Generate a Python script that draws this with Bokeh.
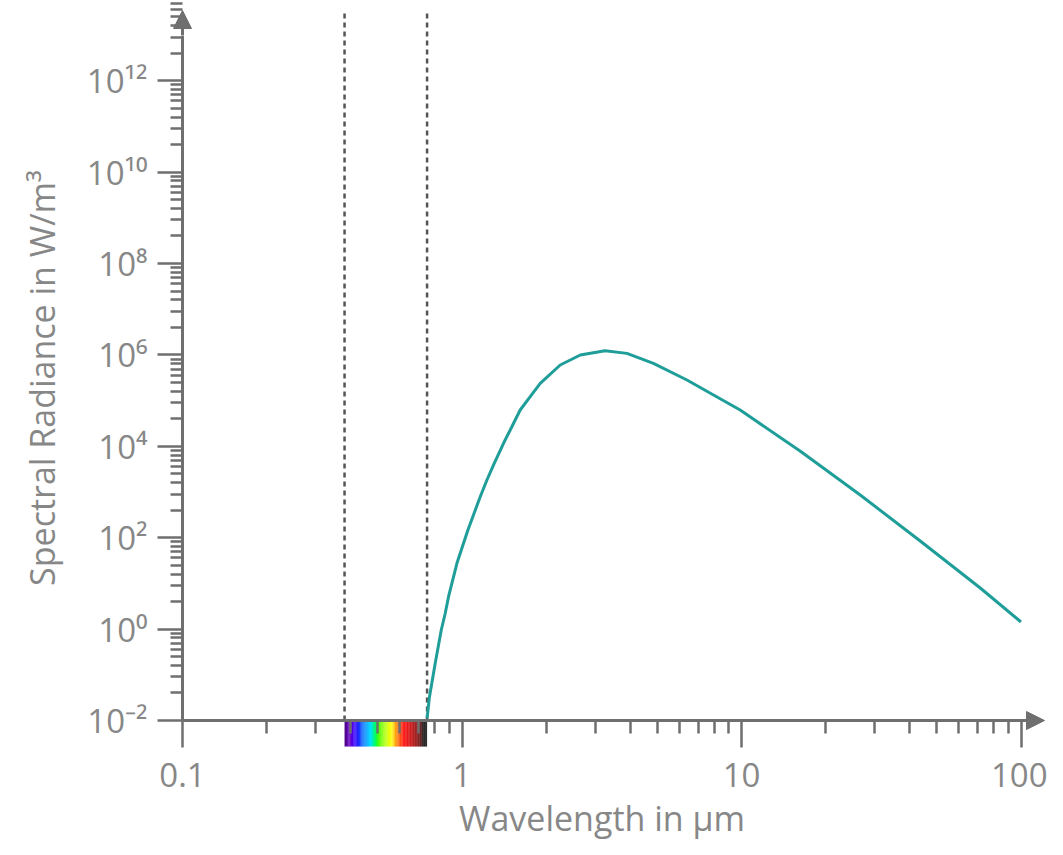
from bokeh.plotting import figure
from bokeh.models import FixedTicker, Arrow, NormalHead, Range1d
from bokeh.embed import file_html
from bokeh.resources import INLINE
import numpy as np

# ---- data ----
wavelength_um = [0.75, 0.765, 0.802, 0.843, 0.871, 0.895, 0.959, 1.05, 1.162, 1.228, 1.304,
                 1.408, 1.488, 1.615, 1.754, 1.905, 2.246, 2.65, 3.25, 3.89, 4.84, 6.38,
                 7.94, 9.89, 16.2, 26.6, 43.6, 71.5, 100.0]
radiance = [0.0112, 0.0332, 0.179, 0.955, 2.22, 5.12, 27.5, 147, 789, 1832, 4250,
            11640, 22750, 62230, 1.216e5, 2.39e5, 6.01e5, 9.95e5, 1.236e6, 1.08e6, 6.55e5, 2.82e5,
            1.33e5, 6.22e4, 7890, 859, 84.7, 7.93, 1.43]

visible_limits_um = [0.38, 0.75]

x_major_ticks = [0.1, 1.0, 10.0, 100.0]
x_tick_labels = ["0.1", "1", "10", "100"]
y_major_exponents = [-2, 0, 2, 4, 6, 8, 10, 12]
y_tick_labels = ["10\u207b\u00b2", "10\u2070", "10\u00b2", "10\u2074", "10\u2076",
                 "10\u2078", "10\u00b9\u2070", "10\u00b9\u00b2"]

spectrum_wl = [0.38, 0.398, 0.415, 0.444, 0.47, 0.49, 0.502, 0.546, 0.56, 0.585, 0.62,
               0.653, 0.708, 0.73, 0.75]
spectrum_colors = ["#4a0080", "#6a00d0", "#3000ff", "#0070ff", "#00e0ff", "#00ff60", "#40ff00",
                   "#e0ff00", "#ffff00", "#ff8000", "#ff0000", "#d00000", "#600000", "#000000",
                   "#000000"]

# ---- styling ----
AX = "#6f6f6f"
TXT = "#878787"
FONT = "Open Sans"
CURVE = "#1f9e99"

W, H = 1047, 839
AXIS_X_PX = 182        # pixel column of the y axis (value 0.1)
AXIS_Y_PX = 720        # pixel row of the x axis (value 1e-2)
ARROW_X_PX = 1044      # tip of the x-axis arrow
ARROW_Y_PX = 10        # tip of the y-axis arrow
PX_PER_DECADE_X = 279.5
PX_PER_DECADE_Y = 45.7
X0 = x_major_ticks[0]
Y0 = 10.0 ** y_major_exponents[0]
X_START = X0 * 10 ** (-AXIS_X_PX / PX_PER_DECADE_X)
X_END = X0 * 10 ** ((W - AXIS_X_PX) / PX_PER_DECADE_X)
X_TIP = X0 * 10 ** ((ARROW_X_PX - AXIS_X_PX) / PX_PER_DECADE_X)
Y_START = Y0 * 10 ** (-(H - AXIS_Y_PX) / PX_PER_DECADE_Y)
Y_END = Y0 * 10 ** (AXIS_Y_PX / PX_PER_DECADE_Y)
Y_TIP = Y0 * 10 ** ((AXIS_Y_PX - ARROW_Y_PX) / PX_PER_DECADE_Y)
Y_RULE_END = 1e13

p = figure(width=W, height=H, x_axis_type="log", y_axis_type="log",
           x_range=Range1d(X_START, X_END), y_range=Range1d(Y_START, Y_END),
           output_backend="svg", toolbar_location=None,
           min_border_left=0, min_border_right=0, min_border_top=0, min_border_bottom=0)
p.outline_line_color = None
p.grid.visible = False
p.background_fill_color = "white"
p.border_fill_color = "white"

# ticks
x_minor = [t * m for t in x_major_ticks for m in range(2, 10)]
y_major = [float(10.0 ** e) for e in y_major_exponents]
y_minor = [float(10.0 ** e) * m * m for e in y_major_exponents for m in range(2, 10)]
p.xaxis.ticker = FixedTicker(ticks=x_major_ticks, minor_ticks=x_minor)
p.yaxis.ticker = FixedTicker(ticks=y_major, minor_ticks=y_minor)
p.xaxis.major_label_overrides = {t: l for t, l in zip(x_major_ticks, x_tick_labels)}
p.yaxis.major_label_overrides = {t: l for t, l in zip(y_major, y_tick_labels)}

for ax in p.axis:
    ax.axis_line_color = AX
    ax.axis_line_width = 3
    ax.major_tick_line_color = AX
    ax.minor_tick_line_color = AX
    ax.major_tick_line_width = 2.5
    ax.minor_tick_line_width = 2.5
    ax.major_tick_in = 0
    ax.minor_tick_in = 0
    ax.major_label_text_font = FONT
    ax.major_label_text_font_size = "33px"
    ax.major_label_text_color = TXT
    ax.axis_label_text_font = FONT
    ax.axis_label_text_font_size = "34px"
    ax.axis_label_text_color = TXT
    ax.axis_label_text_font_style = "normal"

p.yaxis.fixed_location = X0
p.yaxis.bounds = (Y0, Y_RULE_END)
p.yaxis.major_tick_out = 25
p.yaxis.minor_tick_out = 12
p.yaxis.major_label_standoff = 10
p.yaxis.axis_label = "Spectral Radiance in W/m\u00b3"
p.yaxis.axis_label_standoff = 19

p.xaxis.fixed_location = Y0
p.xaxis.bounds = (x_major_ticks[0], x_major_ticks[-1])
p.xaxis.major_tick_out = 27
p.xaxis.minor_tick_out = 13
p.xaxis.major_label_standoff = 15
p.xaxis.axis_label = "Wavelength in \u00b5m"
p.xaxis.axis_label_standoff = 5

# visible spectrum strip below the axis
wl_fine = np.arange(spectrum_wl[0], spectrum_wl[-1] - 1e-9, 0.004)
def hex2rgb(h):
    return [int(h[i:i + 2], 16) for i in (1, 3, 5)]
rgb = np.array([hex2rgb(c) for c in spectrum_colors], dtype=float)
strip_cols = []
for w in wl_fine:
    wc = w + 0.002
    col = [int(round(np.interp(wc, spectrum_wl, rgb[:, k]))) for k in range(3)]
    strip_cols.append("#%02x%02x%02x" % tuple(col))
strip_right = np.minimum(wl_fine + 0.0045, spectrum_wl[-1])
strip_bottom = Y0 * 10 ** (-26 / PX_PER_DECADE_Y)
p.quad(left=wl_fine, right=strip_right, top=Y0, bottom=strip_bottom,
       fill_color=strip_cols, line_color=None)

# dashed visible-range limits
p.segment(x0=visible_limits_um, y0=[Y0] * 2, x1=visible_limits_um, y1=[Y_TIP] * 2,
          line_color="#555555", line_width=2.5, line_dash="5 4")

# curve
p.line(wavelength_um, radiance, line_color=CURVE, line_width=3)

# axis extensions with arrow heads
p.add_layout(Arrow(end=NormalHead(size=18, fill_color=AX, line_color=AX, line_width=1),
                   x_start=x_major_ticks[-1], y_start=Y0, x_end=X_TIP, y_end=Y0,
                   line_color=AX, line_width=3))
p.add_layout(Arrow(end=NormalHead(size=18, fill_color=AX, line_color=AX, line_width=1),
                   x_start=X0, y_start=Y_RULE_END, x_end=X0, y_end=Y_TIP,
                   line_color=AX, line_width=3))

open("out.html", "w").write(file_html(p, INLINE))
